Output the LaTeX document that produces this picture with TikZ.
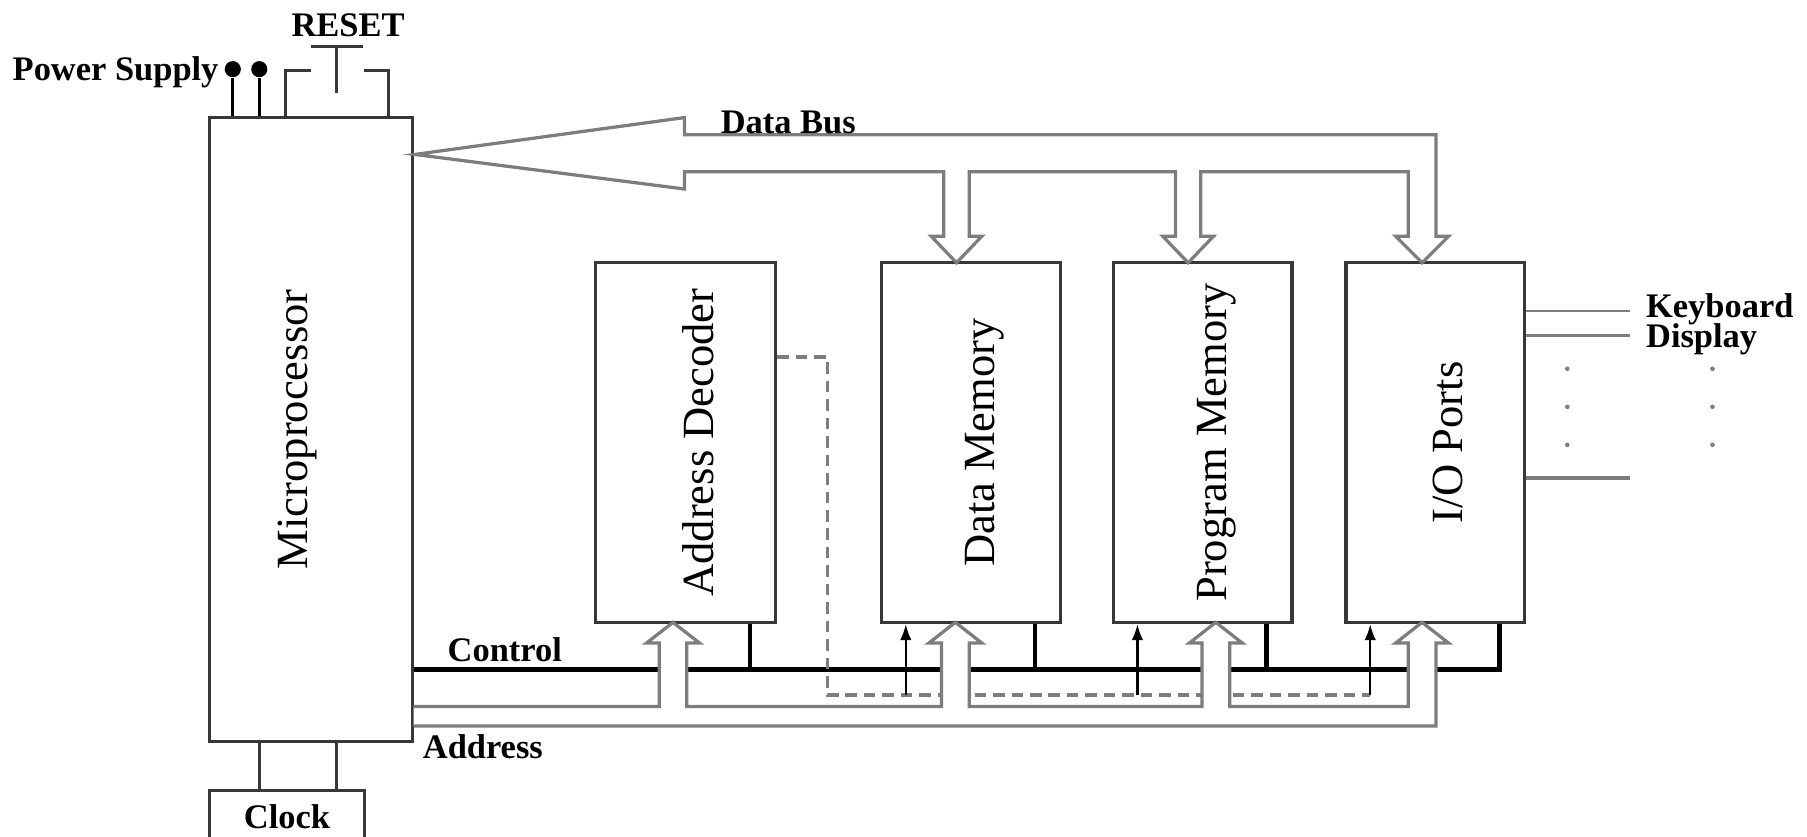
\documentclass[tikz,border=0pt]{standalone}
\usepackage{fontspec}
\setmainfont{Liberation Serif}
\usetikzlibrary{arrows.meta,positioning,calc}
\definecolor{busgray}{RGB}{125,125,125}
\definecolor{boxgray}{RGB}{55,55,55}

\begin{document}
\begin{tikzpicture}[x=0.01cm, y=-0.01cm,
  blk/.style={draw=boxgray, line width=0.8pt, inner sep=0pt},
  blktext/.style={rotate=90, font=\fontsize{11}{13}\selectfont},
  lbl/.style={font=\fontsize{8.5}{10}\selectfont\bfseries},
  bus/.style={draw=busgray, line width=0.8pt, fill=white, line join=miter},
  ctrl/.style={line width=1.1pt},
  sel/.style={busgray, line width=0.9pt, dash pattern=on 0.1cm off 0.06cm},
  pin/.style={circle, fill, inner sep=0pt, minimum size=0.14cm}]
  \useasboundingbox (0,0) rectangle (1568,726);
  % Blocs
  \node[blk, minimum width=1.76cm, minimum height=5.41cm,
    label={[xshift=-0.12cm, blktext]center:Microprocessor}] (mp) at (270,372.5) {};
  \node[blk, minimum width=1.56cm, minimum height=3.12cm,
    label={[xshift=0.11cm, blktext]center:Address Decoder}] (dec) at (595,384) {};
  \node[blk, minimum width=1.55cm, minimum height=3.12cm,
    label={[xshift=0.12cm, blktext]center:Data Memory}] (dmem) at (842.5,384) {};
  \node[blk, minimum width=1.55cm, minimum height=3.12cm,
    label={[xshift=0.12cm, blktext]center:Program Memory}] (pmem) at (1043.5,384) {};
  \node[blk, minimum width=1.55cm, minimum height=3.12cm,
    label={[xshift=0.11cm, blktext]center:I/O Ports}] (io) at (1245.5,384) {};
  \node[blk, lbl, minimum width=1.34cm, minimum height=0.46cm] (clock) at (249,709) {Clock};
  % Horloge
  \draw[boxgray, line width=0.7pt] (225,643 |- clock.north) -- (225,643 |- mp.south)
    (292,643 |- clock.north) -- (292,643 |- mp.south);
  % Alimentation et RESET
  \node[pin] (p1) at (202,60) {};
  \node[pin] (p2) at (225,60) {};
  \draw[line width=0.8pt] (p1) -- (p1 |- mp.north) (p2) -- (p2 |- mp.north);
  \node[lbl, anchor=east] (psu) at (202,63) {Power Supply};
  \draw[boxgray, line width=0.7pt] (248,0 |- mp.north) |- (270,61)
    (337,0 |- mp.north) |- (316,61) (270,40) -- (315,40) (292,40) -- (292,81);
  \node[lbl] (reset) at (302,22) {RESET};
  % Bus de données
  \draw[bus] (594,102) -- (360,134) -- (594,164) -- (594,149)
    -- (819,149) -- (819,205) -- (808,205) -- (830,228) -- (852,205) -- (841,205) -- (841,149)
    -- (1020,149) -- (1020,205) -- (1009,205) -- (1031,228) -- (1053,205) -- (1042,205) -- (1042,149)
    -- (1222,149) -- (1222,205) -- (1211,205) -- (1234,228) -- (1257,205) -- (1246,205)
    -- (1246,117) -- (594,117) -- cycle;
  \node[lbl] (dbus) at (684,106) {Data Bus};
  % Contrôle
  \draw[ctrl] (359,581) -| (1301,581 |- io.south);
  \foreach \x/\b in {651/dec, 898/dmem, 1099/pmem}
    \draw[ctrl] (\x,581) -- (\x,581 |- \b.south);
  \node[lbl] (ctl) at (438,564) {Control};
  % Sélection (décodeur)
  \draw[sel] (dec.east |- 0,310) -- (718,310) -- (718,603) -- (1189,603);
  \foreach \x/\b in {786/dmem, 987/pmem, 1189/io}
    \draw[line width=0.6pt, -{Latex[length=0.14cm, width=0.1cm]}] (\x,603) -- (\x,603 |- \b.south);
  % Bus d'adresses
  \draw[bus] (359,613)
    -- (572,613) -- (572,558) -- (561,558) -- (584,540) -- (607,558) -- (596,558) -- (596,613)
    -- (817,613) -- (817,558) -- (806,558) -- (829,540) -- (852,558) -- (841,558) -- (841,613)
    -- (1043,613) -- (1043,558) -- (1032,558) -- (1055,540) -- (1078,558) -- (1067,558) -- (1067,613)
    -- (1222,613) -- (1222,558) -- (1211,558) -- (1234,540) -- (1257,558) -- (1246,558) -- (1246,630)
    -- (359,630);
  \node[lbl] (addr) at (419,648) {Address};
  % Ports d'E/S
  \draw[busgray, line width=0.5pt] (io.east |- 0,270) -- (1414,270);
  \draw[busgray, line width=0.9pt] (io.east |- 0,291) -- (1414,291)
    (io.east |- 0,415) -- (1414,415);
  \foreach \y in {320,353,386}
    \fill[busgray] (1360,\y) circle (0.02cm) (1486,\y) circle (0.02cm);
  \node[lbl, anchor=west] (kbd) at (1416,268) {Keyboard};
  \node[lbl, anchor=west] (disp) at (1416,294) {Display};
\end{tikzpicture}
\end{document}
